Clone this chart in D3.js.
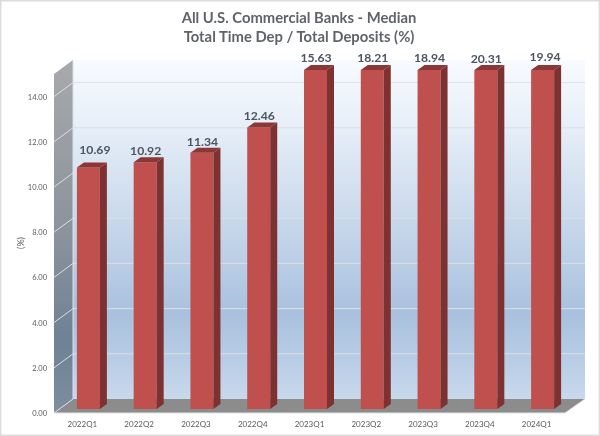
<!DOCTYPE html>
<html><head><meta charset="utf-8">
<script src="https://cdn.jsdelivr.net/npm/d3@7"></script>
<style>html,body{margin:0;padding:0;background:#fff}svg{display:block;filter:blur(.35px)}text{font-family:Lato,"Open Sans",sans-serif}</style>
</head><body><div id="c"></div>
<script>
const categories=["2022Q1","2022Q2","2022Q3","2022Q4","2023Q1","2023Q2","2023Q3","2023Q4","2024Q1"];
const values=[10.69,10.92,11.34,12.46,15.63,18.21,18.94,20.31,19.94];
const yTicks=[0,2,4,6,8,10,12,14];
const titleLines=["All U.S. Commercial Banks - Median","Total Time Dep / Total Deposits (%)"];
const axisMax=15;
const labelDx=[3,-3,-3,-3,-3,-3,-3,-3,-1];
const labelDy=[-6,0,0,0,-1,-1,-1,0,-2];

const W=600,H=436,x0=54,x1=565,yB=413,yT=74,wallDx=19,wallDy=14,barW=23,barDx=7,barDy=5,barInset=4;
const svg=d3.select("#c").append("svg").attr("width",W).attr("height",H);
const defs=svg.append("defs");
const grad=(id,stops)=>{const g=defs.append("linearGradient").attr("id",id).attr("x1",0).attr("x2",0).attr("y1",0).attr("y2",1);
 stops.forEach(s=>g.append("stop").attr("offset",s[0]).attr("stop-color",s[1]));};
grad("back",[[0,"#f8fbff"],[.2,"#e6eef8"],[.45,"#cbdaec"],[.75,"#a9c1de"],[.9,"#bacee6"],[1,"#c9d9ec"]]);
grad("wall",[[0,"#a8a9ab"],[.5,"#8a929c"],[.8,"#6f8196"],[1,"#7e8e9f"]]);

const x=d3.scaleBand().domain(categories).range([x0,x1]);
const y=d3.scaleLinear().domain([0,axisMax]).range([yB,yT]).clamp(true);
const line=d3.line();

svg.append("rect").attr("x",.5).attr("y",.5).attr("width",W-1).attr("height",H-1).attr("fill","#fff").attr("stroke","#dcdcdc").attr("stroke-width",2);

// back wall
svg.append("rect").attr("x",x0+wallDx).attr("y",yT-wallDy).attr("width",x1-x0+1).attr("height",yB-yT).attr("fill","url(#back)");
// left wall
svg.append("path").attr("d",line([[x0,yT],[x0+wallDx,yT-wallDy],[x0+wallDx,yB-wallDy],[x0,yB]])).attr("fill","url(#wall)");
// floor
svg.append("path").attr("d",line([[x0,yB],[x0+wallDx,yB-wallDy],[x1+wallDx+1,yB-wallDy],[x1,yB]])).attr("fill","#8c8c8c");
// gridlines
const gl=svg.append("g").attr("fill","none");
yTicks.filter(d=>d>0).forEach(d=>{
 gl.append("path").attr("d",line([[x0,y(d)],[x0+wallDx,y(d)-wallDy],[x1+wallDx+1,y(d)-wallDy]])).attr("stroke","#dcdfe3").attr("stroke-width",1);
});
svg.append("path").attr("d",line([[x0+wallDx,yT-wallDy],[x0+wallDx,yB-wallDy],[x0,yB]])).attr("fill","none").attr("stroke","#d5dfea").attr("stroke-width",1);
svg.append("path").attr("d",line([[x0,yB],[x1,yB],[x1+wallDx+1,yB-wallDy]])).attr("fill","none").attr("stroke","#e4e4e4").attr("stroke-width",1);

// bars
const barX=d=>x(d)+x.bandwidth()/2-barW/2+6;
const barTop=v=>y(v)-barInset;
const bars=svg.append("g").selectAll("g").data(categories.map((c,i)=>({c,v:values[i],i}))).join("g");
bars.append("rect").attr("x",d=>barX(d.c)).attr("y",d=>barTop(d.v)).attr("width",barW).attr("height",d=>y(0)-barInset-barTop(d.v)).attr("fill","#c0504d");
bars.append("path").attr("fill","#7d3130").attr("d",d=>{const a=barX(d.c)+barW,t=barTop(d.v),b=y(0)-barInset;return line([[a,t],[a+barDx,t-barDy],[a+barDx,b-barDy],[a,b]])+"Z";});
bars.append("path").attr("fill","#8b3735").attr("d",d=>{const a=barX(d.c),t=barTop(d.v);return line([[a,t],[a+barW,t],[a+barW+barDx,t-barDy],[a+barDx,t-barDy]])+"Z";});
bars.append("text").attr("x",d=>barX(d.c)+(barW+barDx)/2+labelDx[d.i]).attr("y",d=>barTop(d.v)-barDy-2+labelDy[d.i]).attr("text-anchor","middle").attr("font-size",12.2).attr("font-weight",700).attr("fill","#4d5560").text(d=>d.v.toFixed(2));

// axes
const ya=svg.append("g").attr("transform",`translate(${x0},0)`).call(d3.axisLeft(y).tickValues(yTicks).tickFormat(d3.format(".2f")).tickSize(0).tickPadding(7));
ya.select(".domain").remove();
ya.selectAll("text").attr("font-size",7.5).attr("fill","#595959").style("font-family","Lato,sans-serif");
const xa=svg.append("g").attr("transform",`translate(0,${yB})`).call(d3.axisBottom(x).tickSize(0).tickPadding(8));
xa.select(".domain").remove();
xa.selectAll("text").attr("font-size",8).attr("fill","#595959").style("font-family","Lato,sans-serif");

svg.append("text").attr("transform","translate(24,243) rotate(-90)").attr("text-anchor","middle").attr("font-size",9).attr("fill","#595959").text("(%)");
svg.selectAll(".ttl").data(titleLines).join("text").attr("class","ttl").attr("x",299).attr("y",(d,i)=>23+i*18.5).attr("text-anchor","middle").attr("font-size",14.8).attr("font-weight",700).attr("fill","#5f6368").text(d=>d);
</script></body></html>
